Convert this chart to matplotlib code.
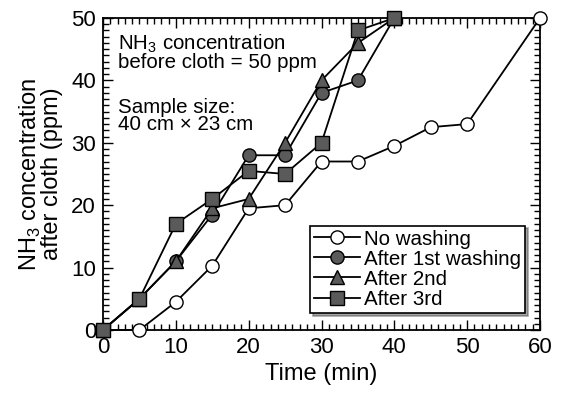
import matplotlib.pyplot as plt
from matplotlib.ticker import MultipleLocator

plt.rcParams['font.family'] = ['Liberation Sans', 'DejaVu Sans']
plt.rcParams['mathtext.fontset'] = 'custom'
plt.rcParams['mathtext.rm'] = 'Liberation Sans'

time_no = [0, 5, 10, 15, 20, 25, 30, 35, 40, 45, 50, 60]
no_washing = [0, 0, 4.5, 10.3, 19.5, 20, 27, 27, 29.5, 32.5, 33, 50]

time_w = [0, 5, 10, 15, 20, 25, 30, 35, 40]
after_1st = [0, 5, 11, 18.5, 28, 28, 38, 40, 50]
after_2nd = [0, 5, 11, 19.5, 21, 30, 40, 46, 50]
after_3rd = [0, 5, 17, 21, 25.5, 25, 30, 48, 50]

gray = '#5a5a5a'
fig = plt.figure(figsize=(5.61, 3.98), dpi=100)
ax = fig.add_axes([0.1836, 0.1709, 0.779, 0.7839])

kw = dict(color='black', lw=1.3, ms=9.5, mec='black', mew=1.0, clip_on=False, zorder=3)
ax.plot(time_no, no_washing, marker='o', mfc='white', label='No washing', **kw)
ax.plot(time_w, after_1st, marker='o', mfc=gray, label='After 1st washing', **kw)
ax.plot(time_w, after_2nd, marker='^', mfc=gray, label='After 2nd', **kw)
ax.plot(time_w, after_3rd, marker='s', mfc=gray, label='After 3rd', **kw)

ax.set_xlim(0, 60)
ax.set_ylim(0, 50)
ax.xaxis.set_major_locator(MultipleLocator(10))
ax.xaxis.set_minor_locator(MultipleLocator(1))
ax.yaxis.set_major_locator(MultipleLocator(10))
ax.yaxis.set_minor_locator(MultipleLocator(1))
ax.tick_params(which='both', direction='in', top=True, right=True, labelsize=16, width=1)
ax.tick_params(which='major', length=7, pad=5)
ax.tick_params(which='minor', length=4)
for s in ax.spines.values():
    s.set_linewidth(1.3)

ax.set_xlabel('Time (min)', fontsize=17, labelpad=4)
ax.set_ylabel('NH$_3$ concentration\nafter cloth (ppm)', fontsize=17, linespacing=0.9, labelpad=6)

ax.text(0.035, 0.955, 'NH$_3$ concentration\nbefore cloth = 50 ppm', transform=ax.transAxes,
        fontsize=14.8, va='top', linespacing=0.9)
ax.text(0.035, 0.745, 'Sample size:\n40 cm × 23 cm', transform=ax.transAxes,
        fontsize=14.8, va='top', linespacing=0.9)

leg = ax.legend(loc='lower right', bbox_to_anchor=(0.965, 0.055), fontsize=14.8, frameon=True,
                fancybox=False, shadow=True, edgecolor='black', framealpha=1,
                handlelength=2.2, handletextpad=0.2, labelspacing=0.05, borderpad=0.2,
                borderaxespad=0)
leg.get_frame().set_linewidth(1.2)

fig.savefig('out.png', dpi=100)
